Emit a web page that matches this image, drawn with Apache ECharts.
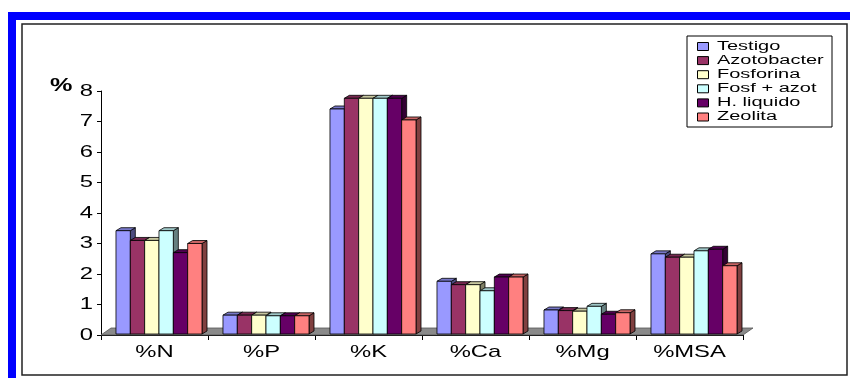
<!DOCTYPE html>
<html lang="es">
<head>
<meta charset="UTF-8">
<title>Contenido de nutrientes</title>
<style>
  html, body {margin: 0; padding: 0; background: #fff;}
  #chart {width: 850px; height: 378px;}
</style>
</head>
<body>
<div id="chart"></div>
<script src="https://cdn.jsdelivr.net/npm/echarts@6/dist/echarts.min.js"></script>
<script>
// categorias del eje x
const categories = ['%N', '%P', '%K', '%Ca', '%Mg', '%MSA'];
const seriesNames = ['Testigo', 'Azotobacter', 'Fosforina', 'Fosf + azot', 'H. liquido', 'Zeolita'];
const yTicks = [0, 1, 2, 3, 4, 5, 6, 7, 8];

// valores
const testigo     = [3.42, 0.65, 7.41, 1.76, 0.82, 2.66];
const azotobacter = [3.10, 0.65, 7.76, 1.65, 0.80, 2.55];
const fosforina   = [3.10, 0.65, 7.76, 1.65, 0.78, 2.55];
const fosfAzot    = [3.42, 0.63, 7.76, 1.45, 0.94, 2.76];
const hLiquido    = [2.70, 0.63, 7.76, 1.90, 0.68, 2.81];
const zeolita     = [3.00, 0.63, 7.05, 1.90, 0.73, 2.27];

const allValues = [testigo, azotobacter, fosforina, fosfAzot, hLiquido, zeolita];
const colors = ['#9999FF', '#993366', '#FFFFCC', '#CCFFFF', '#660066', '#FF8080'];

function shade(hex, k) {
    const n = parseInt(hex.slice(1), 16);
    const r = Math.round(((n >> 16) & 255) * k);
    const g = Math.round(((n >> 8) & 255) * k);
    const b = Math.round((n & 255) * k);
    return 'rgb(' + r + ',' + g + ',' + b + ')';
}

const chart = echarts.init(document.getElementById('chart'));

// barra 3D: cara frontal + cara superior + lateral
function renderBar(params, api) {
    const i = params.seriesIndex;
    const cat = api.value(0);
    const val = api.value(1);
    const top = api.coord([cat, val]);
    const base = api.coord([cat, 0]);
    const band = api.size([1, 0])[0];
    const w = band * 0.134;
    const x = base[0] - band / 2 + band * 0.14 + i * w;
    const y0 = base[1] - 1;
    const y1 = top[1];
    const dx = 5, dy = 3;
    const c = colors[i];
    const line = {stroke: '#000', lineWidth: 0.8};
    return {
        type: 'group',
        children: [
            {type: 'polygon', shape: {points: [[x + w, y1], [x + w + dx, y1 - dy], [x + w + dx, y0 - dy], [x + w, y0]]},
             style: Object.assign({fill: shade(c, 0.5)}, line)},
            {type: 'polygon', shape: {points: [[x, y1], [x + dx, y1 - dy], [x + w + dx, y1 - dy], [x + w, y1]]},
             style: Object.assign({fill: shade(c, 0.78)}, line)},
            {type: 'rect', shape: {x: x, y: y1, width: w, height: y0 - y1},
             style: Object.assign({fill: c}, line)}
        ]
    };
}

const series = seriesNames.map(function (name, i) {
    return {
        name: name,
        type: 'custom',
        renderItem: renderBar,
        itemStyle: {color: colors[i]},
        encode: {x: 0, y: 1},
        data: allValues[i].map(function (v, j) { return [j, v]; }),
        z: 3
    };
});

const font = 'Liberation Sans, Arial, sans-serif';

chart.setOption({
    animation: false,
    textStyle: {fontFamily: font},
    grid: {left: 101, right: 107, top: 91, bottom: 43},
    xAxis: {
        type: 'category',
        data: categories,
        boundaryGap: true,
        axisLine: {lineStyle: {color: '#000', width: 1}},
        axisTick: {show: true, length: 5, lineStyle: {color: '#000'}},
        axisLabel: {show: false},
        splitLine: {show: false}
    },
    yAxis: {
        type: 'value',
        min: yTicks[0],
        max: yTicks[yTicks.length - 1],
        interval: 1,
        axisLine: {show: true, lineStyle: {color: '#000', width: 1}},
        axisTick: {show: true, length: 4, lineStyle: {color: '#000'}},
        axisLabel: {show: false},
        splitLine: {show: false}
    },
    series: series
});

// el original tiene el texto estirado en horizontal
const stretch = 1.4;
const gfx = [];

// marco azul y borde negro
gfx.push({type: 'rect', shape: {x: 8, y: 12, width: 842, height: 8}, style: {fill: '#0000FF'}, z: 0});
gfx.push({type: 'rect', shape: {x: 8, y: 12, width: 8, height: 366}, style: {fill: '#0000FF'}, z: 0});
gfx.push({type: 'rect', shape: {x: 22, y: 24, width: 825, height: 351}, style: {fill: 'none', stroke: '#222', lineWidth: 1.5}, z: 0});

// piso 3D
const c0 = chart.convertToPixel({xAxisIndex: 0, yAxisIndex: 0}, [0, 0]);
const c5 = chart.convertToPixel({xAxisIndex: 0, yAxisIndex: 0}, [categories.length - 1, 0]);
const band = (c5[0] - c0[0]) / (categories.length - 1);
const fx0 = c0[0] - band / 2, fx1 = c5[0] + band / 2, fy = c0[1];
gfx.push({type: 'polygon', z: 1,
    shape: {points: [[fx0, fy], [fx1, fy], [fx1 + 10, fy - 7], [fx0 + 10, fy - 7]]},
    style: {fill: '#8a8a8a', stroke: '#555', lineWidth: 0.8}});

// etiquetas del eje y
yTicks.forEach(function (t) {
    const p = chart.convertToPixel({yAxisIndex: 0}, t);
    gfx.push({type: 'text', x: 93, y: p, scaleX: stretch, z: 5,
        style: {text: String(t), fontSize: 17, fill: '#000', fontFamily: font, align: 'right', verticalAlign: 'middle'}});
});

// etiquetas del eje x
categories.forEach(function (c, j) {
    const p = chart.convertToPixel({xAxisIndex: 0}, j);
    gfx.push({type: 'text', x: p, y: fy + 9, scaleX: stretch, z: 5,
        style: {text: c, fontSize: 17, fill: '#000', fontFamily: font, align: 'center', verticalAlign: 'top'}});
});

// titulo del eje y
gfx.push({type: 'text', x: 50, y: 77, scaleX: stretch, z: 5,
    style: {text: '%', fontSize: 18, fontWeight: 'bold', fill: '#000', fontFamily: font}});

// leyenda
const lgX = 687, lgY = 36, lgRow = 14.1;
gfx.push({type: 'rect', z: 5, shape: {x: lgX, y: lgY, width: 145, height: 91},
    style: {fill: '#fff', stroke: '#000', lineWidth: 1}});
seriesNames.forEach(function (name, i) {
    const cy = lgY + 10.5 + i * lgRow;
    gfx.push({type: 'rect', z: 6, shape: {x: lgX + 10.5, y: cy - 4, width: 11, height: 8},
        style: {fill: colors[i], stroke: '#000', lineWidth: 1}});
    gfx.push({type: 'text', z: 6, x: lgX + 30, y: cy, scaleX: 1.6,
        style: {text: name, fontSize: 12.5, fill: '#000', fontFamily: font, verticalAlign: 'middle'}});
});

chart.setOption({graphic: gfx});
</script>
</body>
</html>
